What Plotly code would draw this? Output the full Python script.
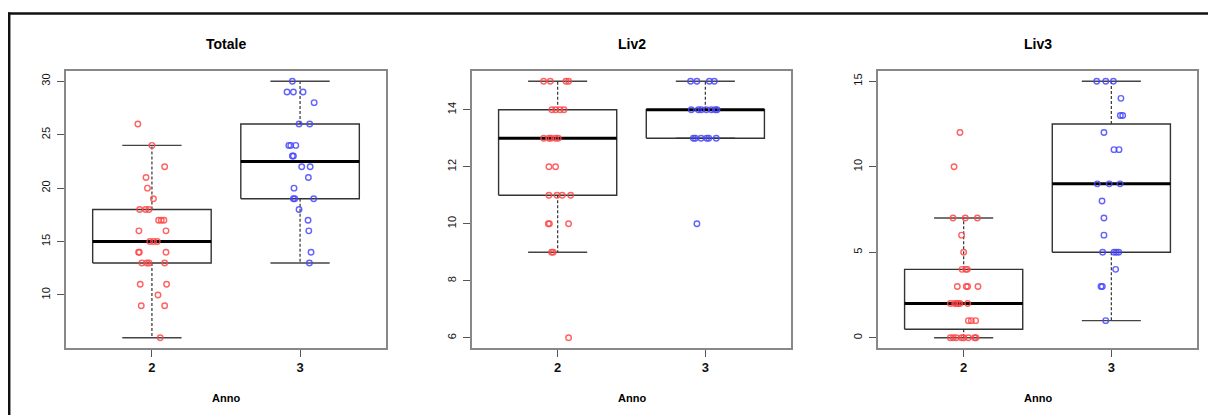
import math
import plotly.graph_objects as go

# ---------------- data ----------------
groups = ["2", "3"]
titles = ["Totale", "Liv2", "Liv3"]
x_label = "Anno"

totale_2 = [26, 24, 22, 21, 20, 19, 18, 18, 18, 17, 17, 17, 16, 16, 15, 15, 15,
            14, 14, 14, 13, 13, 13, 13, 11, 11, 10, 9, 9, 6]
totale_2_jit = [-0.095, 0.0, 0.086, -0.04, -0.03, 0.01, -0.083, -0.043, -0.02,
                0.045, 0.063, 0.081, -0.088, 0.095, -0.014, 0.011, 0.036,
                -0.09, -0.085, 0.095, -0.068, -0.034, -0.02, 0.086, -0.079,
                0.099, 0.041, -0.072, 0.086, 0.056]
totale_3 = [30, 29, 29, 29, 28, 26, 26, 24, 24, 24, 23, 23, 22, 22, 21, 20, 19,
            19, 19, 18, 17, 16, 14, 13]
totale_3_jit = [-0.052, -0.088, -0.045, 0.02, 0.095, -0.007, 0.065, -0.076,
                -0.063, -0.029, -0.052, -0.045, 0.011, 0.068, 0.056, -0.041,
                -0.045, -0.036, 0.092, -0.007, 0.054, 0.059, 0.074, 0.063]

liv2_2 = [15, 15, 15, 15, 14, 14, 14, 14, 13, 13, 13, 13, 13, 12, 12, 11, 11,
          11, 11, 10, 10, 10, 9, 9, 6]
liv2_2_jit = [-0.095, -0.05, 0.056, 0.074, -0.039, -0.014, 0.016, 0.043,
              -0.095, -0.059, -0.045, -0.014, 0.004, -0.059, -0.014, -0.059,
              -0.005, 0.031, 0.088, -0.063, -0.056, 0.074, -0.041, -0.03, 0.074]
liv2_3 = [15, 15, 15, 15, 14, 14, 14, 14, 14, 14, 14, 13, 13, 13, 13, 13, 13, 10]
liv2_3_jit = [-0.1, -0.057, 0.027, 0.061, -0.095, -0.047, -0.027, 0.007, 0.041,
              0.068, 0.079, -0.081, -0.068, -0.029, 0.009, 0.023, 0.074, -0.057]

liv3_2 = [12, 10, 7, 7, 7, 6, 5, 4, 4, 4, 3, 3, 3, 3, 2, 2, 2, 2, 2, 2, 1, 1, 1,
          0, 0, 0, 0, 0, 0, 0, 0]
liv3_2_jit = [-0.025, -0.065, -0.072, 0.011, 0.093, -0.014, 0.0, -0.011, 0.014,
              0.025, -0.043, 0.018, 0.027, 0.097, -0.09, -0.061, -0.047, -0.035,
              -0.025, 0.027, 0.032, 0.052, 0.081, -0.09, -0.07, -0.05, -0.014,
              0.0, 0.032, 0.074, 0.083]
liv3_3 = [15, 15, 15, 14, 13, 13, 12, 11, 11, 9, 9, 9, 8, 7, 6, 5, 5, 5, 5, 4,
          3, 3, 1]
liv3_3_jit = [-0.099, -0.038, 0.014, 0.065, 0.061, 0.077, -0.05, 0.018, 0.052,
              -0.095, -0.014, 0.059, -0.063, -0.05, -0.05, -0.059, 0.018, 0.034,
              0.05, 0.029, -0.07, -0.061, -0.038]

y_ticks = [[10, 15, 20, 25, 30], [6, 8, 10, 12, 14], [0, 5, 10, 15]]

panels = [
    [(totale_2, totale_2_jit), (totale_3, totale_3_jit)],
    [(liv2_2, liv2_2_jit), (liv2_3, liv2_3_jit)],
    [(liv3_2, liv3_2_jit), (liv3_3, liv3_3_jit)],
]

point_colors = ["rgba(255,70,70,0.85)", "rgba(70,70,255,0.85)"]

# ---------------- helpers ----------------
def fivenum(v):
    s = sorted(v)
    n = len(s)
    n4 = math.floor((n + 3) / 2) / 2
    d = [1, n4, (n + 1) / 2, n + 1 - n4, n]
    return [0.5 * (s[math.floor(i) - 1] + s[math.ceil(i) - 1]) for i in d]


def box_stats(v):
    f = fivenum(v)
    q1, med, q3 = f[1], f[2], f[3]
    iqr = q3 - q1
    lo = min(x for x in v if x >= q1 - 1.5 * iqr)
    hi = max(x for x in v if x <= q3 + 1.5 * iqr)
    return lo, q1, med, q3, hi


# page body has an 8px margin, so the figure starts at (8, 8) of the window
OFF = 8
W, H = 1216 - OFF, 415 - OFF
plot_left = [66 - OFF, 472 - OFF, 878 - OFF]
plot_right = [386 - OFF, 791 - OFF, 1197 - OFF]
plot_top, plot_bottom = 71 - OFF, 348 - OFF

box_w = 0.8
cap_w = 0.4

fig = go.Figure()
annotations = []

for p, groups_data in enumerate(panels):
    suf = "" if p == 0 else str(p + 1)
    xa, ya = "x" + suf, "y" + suf
    all_vals = [v for g in groups_data for v in g[0]]
    vmin, vmax = min(all_vals), max(all_vals)
    pad = (vmax - vmin) * 0.04

    for gi, (vals, jit) in enumerate(groups_data):
        pos = gi + 1
        lo, q1, med, q3, hi = box_stats(vals)
        hw = box_w / 2
        cw = cap_w / 2
        fig.add_trace(go.Scatter(
            x=[pos, pos, None, pos, pos], y=[q3, hi, None, q1, lo],
            mode="lines", line=dict(color="#333333", width=1.2, dash="3px,2px"),
            xaxis=xa, yaxis=ya, showlegend=False, hoverinfo="skip"))
        fig.add_trace(go.Scatter(
            x=[pos - cw, pos + cw, None, pos - cw, pos + cw],
            y=[hi, hi, None, lo, lo],
            mode="lines", line=dict(color="#444444", width=1.4),
            xaxis=xa, yaxis=ya, showlegend=False, hoverinfo="skip"))
        fig.add_trace(go.Scatter(
            x=[pos - hw, pos + hw, pos + hw, pos - hw, pos - hw],
            y=[q1, q1, q3, q3, q1],
            mode="lines", line=dict(color="#333333", width=1.4),
            xaxis=xa, yaxis=ya, showlegend=False, hoverinfo="skip"))
        fig.add_trace(go.Scatter(
            x=[pos - hw, pos + hw], y=[med, med],
            mode="lines", line=dict(color="#000000", width=3),
            xaxis=xa, yaxis=ya, showlegend=False, hoverinfo="skip"))
        fig.add_trace(go.Scatter(
            x=[pos + j for j in jit], y=vals, mode="markers",
            marker=dict(symbol="circle-open", size=5.5,
                        color=point_colors[gi], line=dict(width=1.4)),
            xaxis=xa, yaxis=ya, showlegend=False))

    dom_x = [plot_left[p] / W, plot_right[p] / W]
    dom_y = [1 - plot_bottom / H, 1 - plot_top / H]
    fig.layout["xaxis" + suf] = dict(
        domain=dom_x, range=[0.42, 2.58], anchor=ya,
        tickvals=[1, 2], ticktext=["<b>%s</b>" % g for g in groups],
        ticks="outside", ticklen=7, tickcolor="#555555", tickwidth=1.2,
        showline=True, linecolor="#888888", linewidth=1.6, mirror=True,
        showgrid=False, zeroline=False,
        tickfont=dict(family="Liberation Sans, Arial", size=13, color="#111111"))
    fig.layout["yaxis" + suf] = dict(
        domain=dom_y, range=[vmin - pad, vmax + pad], anchor=xa,
        tickvals=y_ticks[p], ticks="outside", ticklen=7, tickcolor="#555555",
        tickwidth=1.2, tickangle=-90, ticklabelstandoff=3,
        showline=True, linecolor="#888888", linewidth=1.6, mirror=True,
        showgrid=False, zeroline=False,
        tickfont=dict(family="Liberation Sans, Arial", size=11, color="#111111"))

    cx = (plot_left[p] + plot_right[p]) / 2 / W
    annotations.append(dict(
        text="<b>%s</b>" % titles[p], x=cx, y=1 - (44 - OFF) / H, xref="paper",
        yref="paper", showarrow=False, xanchor="center", yanchor="middle",
        font=dict(family="Liberation Sans, Arial", size=14, color="#000000")))
    annotations.append(dict(
        text="<b>%s</b>" % x_label, x=cx, y=1 - (398 - OFF) / H, xref="paper",
        yref="paper", showarrow=False, xanchor="center", yanchor="middle",
        font=dict(family="Liberation Sans, Arial", size=11, color="#000000")))

shapes = [
    dict(type="line", xref="paper", yref="paper", x0=0, x1=1,
         y0=1 - (13.5 - OFF) / H, y1=1 - (13.5 - OFF) / H,
         line=dict(color="#111111", width=2.5)),
    dict(type="line", xref="paper", yref="paper", x0=1.2 / W, x1=1.2 / W,
         y0=0, y1=1 - (12.5 - OFF) / H, line=dict(color="#111111", width=2.5)),
]

fig.update_layout(
    width=W, height=H, margin=dict(l=0, r=0, t=0, b=0),
    paper_bgcolor="white", plot_bgcolor="white",
    annotations=annotations, shapes=shapes, showlegend=False,
)

fig.write_html("out.html")
